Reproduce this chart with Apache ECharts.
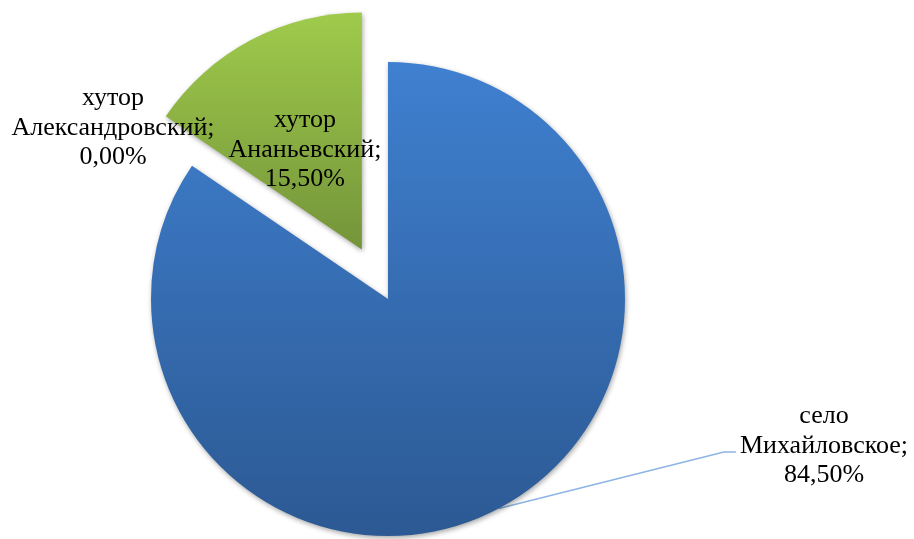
<!DOCTYPE html>
<html>
<head>
<meta charset="utf-8">
<script src="https://cdn.jsdelivr.net/npm/echarts@6/dist/echarts.min.js"></script>
<style>html,body{margin:0;padding:0;background:#fff}#c{width:914px;height:539px}</style>
</head>
<body>
<div id="c"></div>
<script>
const categories = ['село Михайловское', 'хутор Александровский', 'хутор Ананьевский'];
const values = [84.5, 0.0, 15.5];
const exploded = [false, false, true];

const gradients = [
  ['#3F80D0', '#2C5993'],
  ['#3F80D0', '#2C5993'],
  ['#9FCB4B', '#74943A']
];
// label anchor (centre of text block) for outside labels
const labelPos = [[824, 446], [113, 128], null];

function fmt(p) {
  const name = p.name.replace(' ', '\n');
  return name + ';\n' + p.value.toFixed(2).replace('.', ',') + '%';
}
function fmtInside(p) {
  return '{s| }\n' + fmt(p);
}

const chart = echarts.init(document.getElementById('c'), null, {renderer: 'canvas'});
chart.setOption({
  animation: false,
  backgroundColor: '#fff',
  series: [{
    type: 'pie',
    center: [388, 299],
    radius: 237,
    startAngle: 90,
    clockwise: true,
    selectedMode: 'multiple',
    selectedOffset: 56,
    avoidLabelOverlap: false,
    minShowLabelAngle: 0,
    emphasis: {disabled: true},
    select: {disabled: false, itemStyle: {}},
    itemStyle: {
      shadowBlur: 5,
      shadowColor: 'rgba(0,0,0,0.35)',
      shadowOffsetX: 1,
      shadowOffsetY: 2
    },
    label: {
      show: true,
      formatter: fmt,
      fontFamily: 'Liberation Serif',
      fontSize: 26,
      lineHeight: 29.5,
      color: '#000',
      align: 'center'
    },
    labelLine: {
      show: true,
      lineStyle: {color: '#8DB4E3', width: 1.5}
    },
    labelLayout: function (p) {
      const pos = labelPos[p.dataIndex];
      if (!pos) return {};
      const res = {x: pos[0], y: pos[1], align: 'center', verticalAlign: 'middle'};
      if (p.dataIndex === 0 && p.labelLinePoints) {
        const w = p.labelRect.width;
        const left = pos[0] - w / 2;
        const midY = pos[1] + 6;
        res.labelLinePoints = [p.labelLinePoints[0], [left - 16, midY], [left - 4, midY]];
      }
      return res;
    },
    data: categories.map((c, i) => ({
      name: c,
      value: values[i],
      selected: exploded[i],
      itemStyle: {
        color: new echarts.graphic.LinearGradient(0, 0, 0, 1, [
          {offset: 0, color: gradients[i][0]},
          {offset: 1, color: gradients[i][1]}
        ])
      },
      label: i === 2
        ? {position: 'inside', formatter: fmtInside, rich: {s: {fontSize: 8, lineHeight: 16}}}
        : {position: 'outside'},
      labelLine: {show: i === 0}
    }))
  }]
});
</script>
</body>
</html>
